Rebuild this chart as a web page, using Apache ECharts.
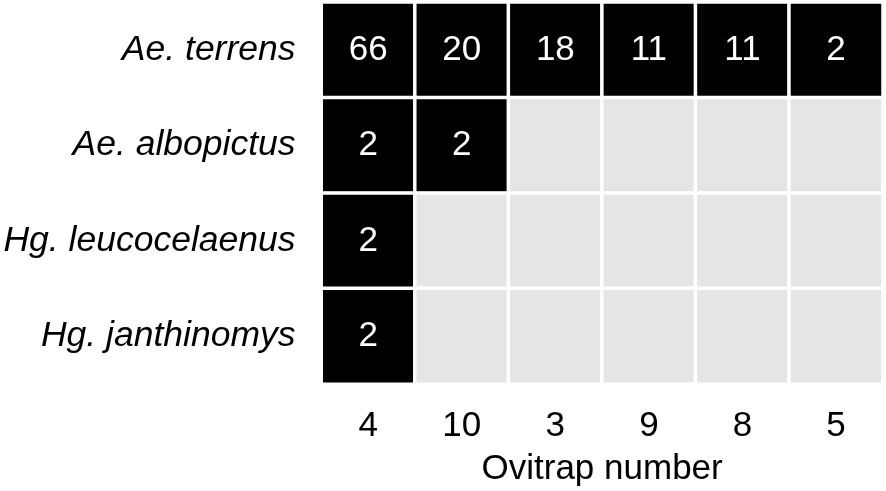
<!DOCTYPE html>
<html><head><meta charset="utf-8">
<script src="https://cdn.jsdelivr.net/npm/echarts@6/dist/echarts.min.js"></script>
<style>html,body{margin:0;padding:0;background:#fff}#c{width:886px;height:491px}</style>
</head><body><div id="c"></div>
<script>
const ovitraps = ['4', '10', '3', '9', '8', '5'];
const species = ['Ae. terrens', 'Ae. albopictus', 'Hg. leucocelaenus', 'Hg. janthinomys'];
const counts = [
  [66, 20, 18, 11, 11, 2],
  [2, 2, 0, 0, 0, 0],
  [2, 0, 0, 0, 0, 0],
  [2, 0, 0, 0, 0, 0]
];
const data = [];
counts.forEach((row, i) => row.forEach((v, j) => data.push([j, i, v])));
const chart = echarts.init(document.getElementById('c'));
const FONT = '"Liberation Sans", Arial, sans-serif';
chart.setOption({
  animation: false,
  grid: { left: 321.5, right: 3.25, top: 2.25, bottom: 107, containLabel: false, outerBoundsMode: 'none' },
  xAxis: {
    type: 'category', data: ovitraps,
    axisLine: { show: false }, axisTick: { show: false }, splitLine: { show: false },
    axisLabel: { color: '#000', fontSize: 35, fontFamily: FONT, margin: 25 },
    name: 'Ovitrap number', nameLocation: 'middle', nameGap: 68,
    nameTextStyle: { color: '#000', fontSize: 35, fontFamily: FONT }
  },
  yAxis: {
    type: 'category', data: species, inverse: true,
    axisLine: { show: false }, axisTick: { show: false }, splitLine: { show: false },
    axisLabel: { color: '#000', fontSize: 35.5, fontStyle: 'italic', fontFamily: FONT, margin: 26, padding: [4, 0, 0, 0] }
  },
  visualMap: {
    show: false, type: 'piecewise', dimension: 2,
    pieces: [{ value: 0, color: '#e5e5e5' }, { gt: 0, color: '#000000' }]
  },
  series: [{
    type: 'heatmap', data: data,
    itemStyle: { borderColor: '#fff', borderWidth: 3.5 },
    label: {
      show: true, color: '#fff', fontSize: 35, fontFamily: FONT, padding: [4, 0, 0, 0],
      formatter: p => p.value[2] > 0 ? String(p.value[2]) : ''
    },
    emphasis: { disabled: true }
  }]
});
</script></body></html>
